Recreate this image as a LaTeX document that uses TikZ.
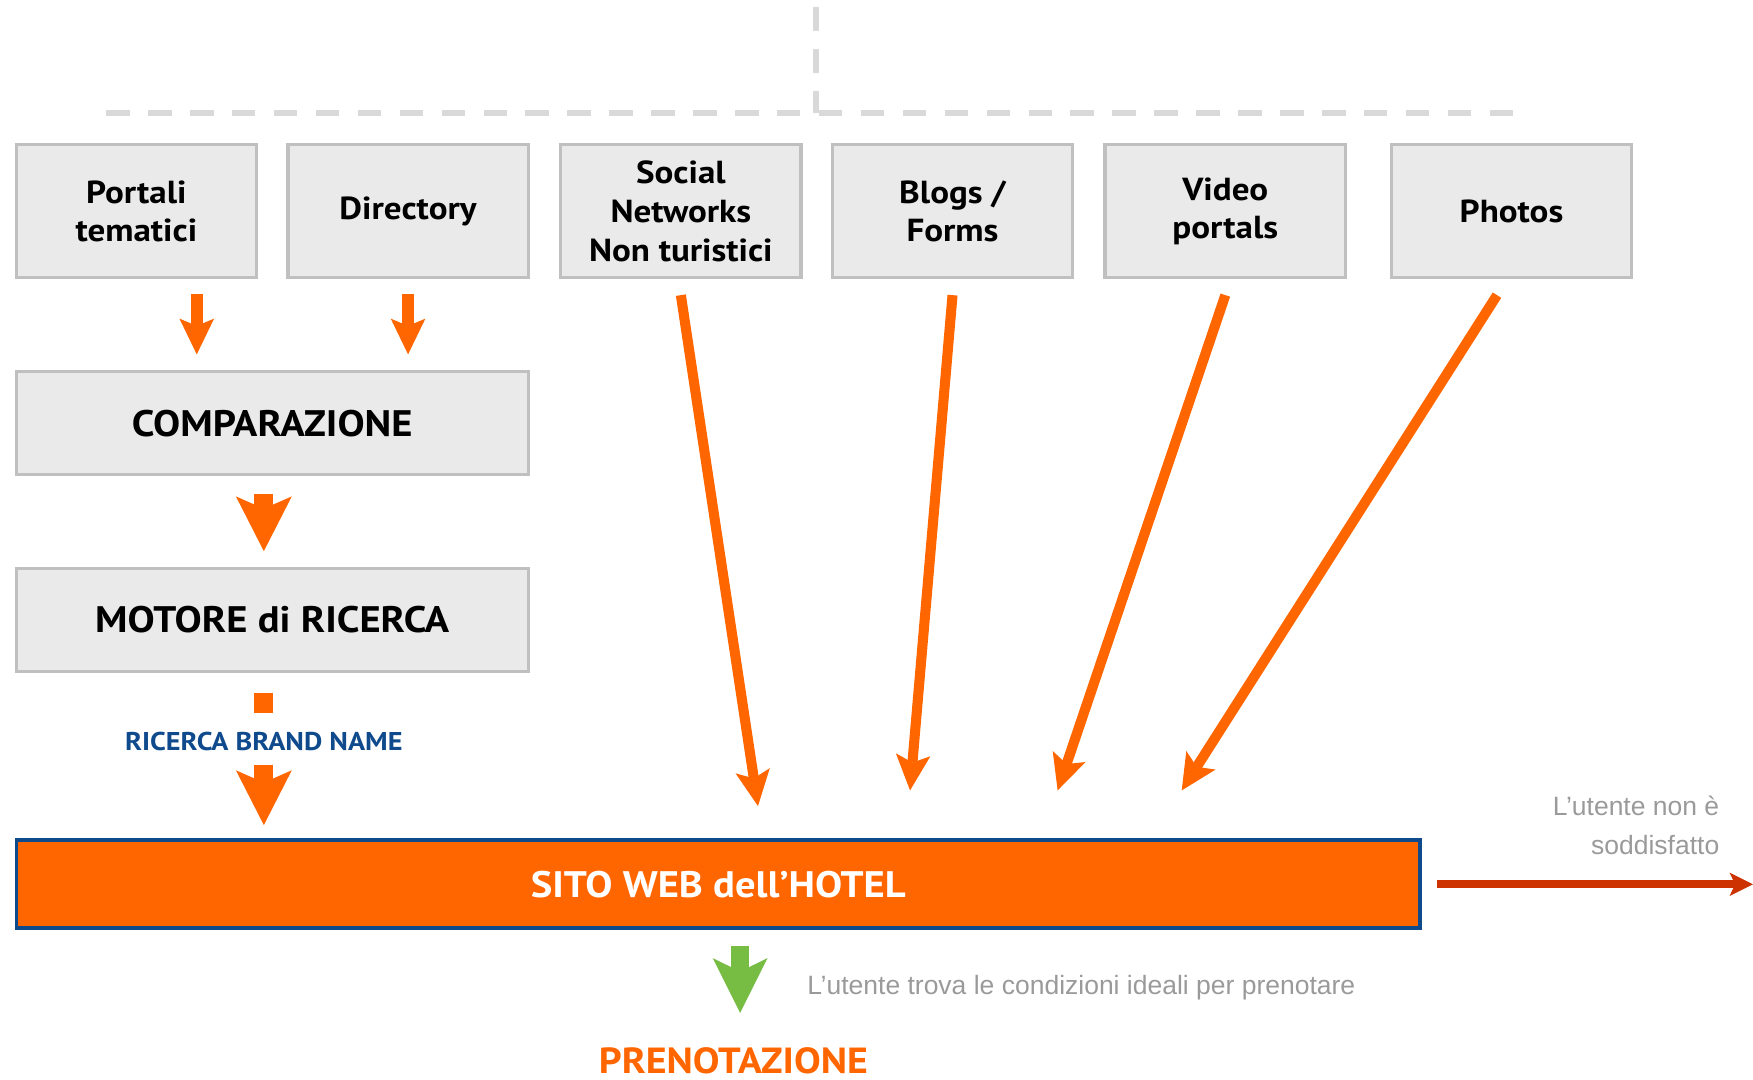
\documentclass[tikz,border=0pt]{standalone}
\usepackage{fontspec}
\setmainfont{PT Sans}[FakeStretch=1.1]
\newfontfamily\arialfont{Liberation Sans}
\usetikzlibrary{arrows.meta,calc}

\definecolor{hotelorange}{HTML}{FF6600}
\definecolor{boxfill}{HTML}{EAEAEA}
\definecolor{boxline}{HTML}{C0C0C0}
\definecolor{guide}{HTML}{D9D9D9}
\definecolor{navy}{HTML}{0E4A8C}
\definecolor{okgreen}{HTML}{77BC43}
\definecolor{exitred}{HTML}{CC3300}
\definecolor{note}{HTML}{9A9A9A}

\begin{document}
\begin{tikzpicture}[x=1pt,y=-1pt,
  srcbox/.style={draw=boxline, fill=boxfill, line width=3pt,
    minimum width=215pt, minimum height=119pt, inner sep=0pt, align=center,
    font=\fontsize{28.5}{34.5}\selectfont\bfseries},
  widebox/.style={draw=boxline, fill=boxfill, line width=3pt,
    minimum width=458pt, minimum height=92pt, inner sep=0pt,
    font=\fontsize{33}{40}\selectfont\bfseries},
  sitebox/.style={draw=navy, fill=hotelorange, line width=3.5pt,
    minimum width=1255.5pt, minimum height=78.5pt, inner sep=0pt, text=white,
    font=\fontsize{33}{40}\selectfont\bfseries},
  guideline/.style={draw=guide, line width=5pt, dash pattern=on 21pt off 16.5pt},
  bigarrow/.style={draw=hotelorange, line width=17pt,
    -{Stealth[length=49pt,width=50pt,inset=11pt,line width=0pt]}},
  bigstub/.style={draw=hotelorange, line width=17pt},
  thinarrow/.style={draw=hotelorange, line width=9pt,
    -{Stealth[length=32pt,width=31pt,inset=7pt,line width=0pt]}},
  smallarrow/.style={draw=hotelorange, line width=10.5pt,
    -{Stealth[length=32pt,width=31pt,inset=6.5pt,line width=0pt]}},
  greenarrow/.style={draw=okgreen, line width=16.5pt,
    -{Stealth[length=49pt,width=49pt,inset=12pt,line width=0pt]}},
  exitarrow/.style={draw=exitred, line width=7pt,
    -{Stealth[length=21pt,width=21pt,inset=5pt,line width=0pt]}},
  notetext/.style={text=note, inner sep=0pt,
    font=\arialfont\fontsize{23.7}{34.6}\selectfont},
]
\useasboundingbox (0,0) rectangle (1568,966);

% dashed bracket above the sources
\draw[guideline] (95,101) -- (1357,101);
\draw[guideline] (730,6.5) -- (730,101);

% information sources
\node[srcbox] (b1) at (122,189) {Portali\\tematici};
\node[srcbox] (b2) at (365,189) {Directory};
\node[srcbox] (b3) at (609,189) {Social\\Networks\\Non turistici};
\node[srcbox] (b4) at (852,189) {Blogs /\\Forms};
\node[srcbox] (b5) at (1096,189) {Video\\portals};
\node[srcbox] (b6) at (1352,189) {Photos};

% funnel on the left
\node[widebox] (comp) at (243.5,378.5) {COMPARAZIONE};
\node[widebox] (motore) at (243.5,554.5) {MOTORE di RICERCA};
\node[text=navy, inner sep=0pt, font=\fontsize{23}{28}\selectfont\bfseries]
  (brand) at (236,663) {RICERCA BRAND NAME};

% hotel website
\node[sitebox] (sito) at (642.5,791) {SITO WEB dell’HOTEL};
\node[text=hotelorange, inner sep=0pt, font=\fontsize{32.5}{38}\selectfont\bfseries]
  (pren) at (656,948.5) {PRENOTAZIONE};
\coordinate (exit) at (1568,791);

% notes
\node[notetext, anchor=west] (find) at (722,883)
  {L’utente trova le condizioni ideali per prenotare};
\node[notetext, align=right, anchor=east] (quit) at (1538,738)
  {L’utente non è\\soddisfatto};

% arrows into the comparison box
\draw[smallarrow, shorten <=13pt, shorten >=14pt]
  ([xshift=54pt]b1.south) -- ([xshift=54pt]b1.south |- comp.north);
\draw[smallarrow, shorten <=13pt, shorten >=14pt]
  (b2.south) -- (b2.south |- comp.north);

% comparison -> search engine -> brand search -> website
\draw[bigarrow, shorten <=16pt, shorten >=14pt]
  ([xshift=-7.5pt]comp.south) -- ([xshift=-7.5pt]motore.north);
\draw[bigstub] ([yshift=43pt]brand.center) -- ([yshift=25pt]brand.center);
\draw[bigarrow, shorten >=12pt]
  ([yshift=-21pt]brand.center) -- (brand.center |- sito.north);

% direct arrows from the other sources
\draw[thinarrow] ([yshift=-14pt]b3.south) -- ([xshift=35.5pt,yshift=29pt]sito.north);
\draw[thinarrow] ([yshift=-14pt]b4.south) -- ([xshift=171.5pt,yshift=43pt]sito.north);
\draw[thinarrow] ([yshift=-14pt]b5.south) -- ([xshift=303.5pt,yshift=43pt]sito.north);
\draw[thinarrow] ([xshift=-13pt,yshift=-14pt]b6.south) -- ([xshift=414.5pt,yshift=43pt]sito.north);

% outcomes
\draw[greenarrow] ([xshift=19.5pt,yshift=-14pt]sito.south) -- ([xshift=6pt,yshift=42.5pt]pren.center);
\draw[exitarrow] ([xshift=13pt]sito.east) -- (exit);
\end{tikzpicture}
\end{document}
